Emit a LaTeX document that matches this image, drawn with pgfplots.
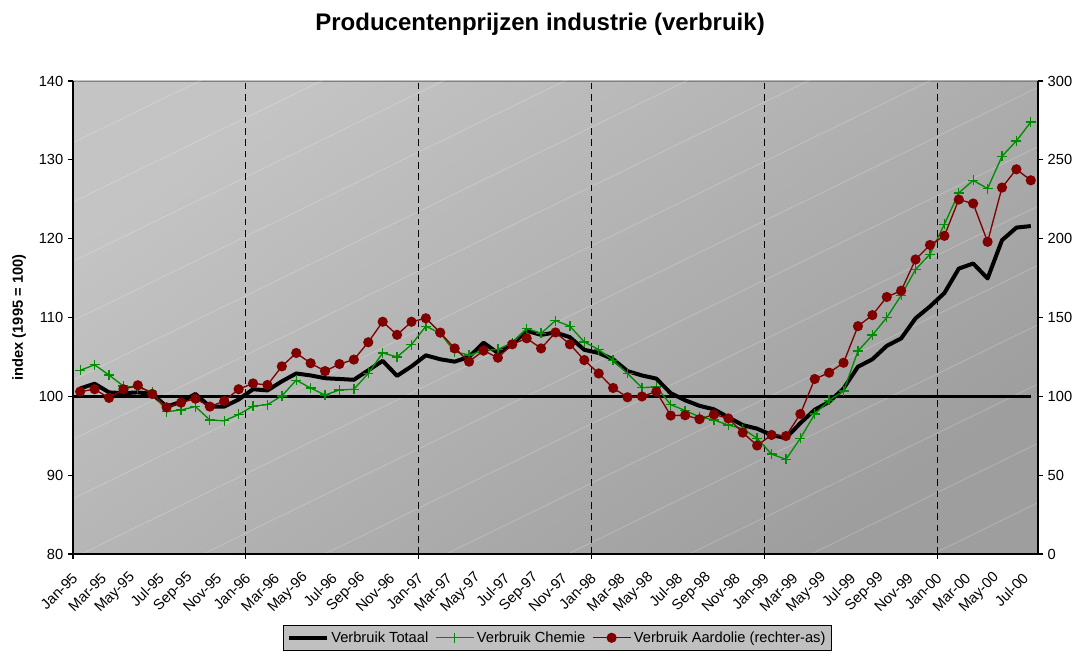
\documentclass[border=0pt]{standalone}
\usepackage{pgfplots}
\pgfplotsset{compat=1.18}
\usepackage{pgfplotstable}
\usepackage{fontspec}
\setmainfont{Liberation Sans}
\usetikzlibrary{patterns.meta}
\definecolor{bgA}{RGB}{196,196,196}
\definecolor{bgB}{RGB}{158,158,158}
\definecolor{chem}{RGB}{0,140,0}
\definecolor{aard}{RGB}{128,0,0}
\definecolor{leg}{RGB}{192,192,192}

\pgfplotstableread{
x tot chem
0 101.0 103.3
1 101.6 104.0
2 100.5 102.7
3 100.4 101.3
4 100.5 101.1
5 100.3 100.6
6 98.7 98.05
7 99.3 98.27
8 100.3 98.7
9 98.7 97.0
10 98.7 96.9
11 99.6 97.7
12 100.9 98.75
13 100.75 98.95
14 101.9 100.05
15 102.9 102.05
16 102.65 101.05
17 102.3 100.17
18 102.2 100.8
19 102.1 100.9
20 103.3 102.9
21 104.5 105.5
22 102.6 105.0
23 103.8 106.55
24 105.2 108.9
25 104.7 108.0
26 104.4 105.66
27 105.0 105.24
28 106.8 105.8
29 105.5 105.96
30 106.6 106.8
31 108.3 108.6
32 107.8 108.0
33 108.1 109.6
34 107.5 108.9
35 105.9 106.9
36 105.5 105.93
37 104.7 104.55
38 103.2 102.9
39 102.65 101.1
40 102.25 101.2
41 100.4 98.95
42 99.5 98.2
43 98.8 97.4
44 98.35 97.0
45 97.35 96.36
46 96.35 95.9
47 95.9 94.67
48 95.1 92.68
49 94.7 92.0
50 96.6 94.67
51 98.3 97.75
52 99.3 99.5
53 101.0 100.67
54 103.75 105.74
55 104.7 107.76
56 106.4 110.0
57 107.35 112.8
58 109.9 116.1
59 111.4 118.03
60 113.1 121.83
61 116.2 125.8
62 116.85 127.4
63 114.95 126.35
64 119.8 130.45
65 121.4 132.4
66 121.6 134.8
}\lefttable

\pgfplotstableread{
x aard
0 103
1 104.5
2 99
3 104.5
4 107
5 101.5
6 93
7 96
8 98.5
9 93.5
10 97
11 104.5
12 108.2
13 107.2
14 119
15 127.5
16 121
17 116
18 120.5
19 123.3
20 134.3
21 147.3
22 139
23 147.3
24 149.5
25 140.4
26 130.4
27 122
28 129
29 124.5
30 133
31 136.8
32 130.4
33 140.5
34 133
35 123
36 114.5
37 105.3
38 99.4
39 99.9
40 103
41 87.8
42 88
43 85.5
44 88.5
45 86
46 77
47 68.8
48 75.5
49 74.8
50 88.8
51 111
52 115
53 121.3
54 144.5
55 151.5
56 163
57 167
58 186.8
59 196
60 201.8
61 224.8
62 222.3
63 198
64 232.4
65 244
66 237
}\righttable

\begin{document}
\begin{tikzpicture}[x=1pt,y=1pt]
\path[use as bounding box] (-54.75,-74.25) rectangle (754.5,415.5);
\begin{axis}[
  at={(0,0)}, anchor=south west,
  scale only axis, width=723.75pt, height=354.75pt,
  xmin=-0.5, xmax=66.5, ymin=80, ymax=140,
  axis x line*=bottom, axis y line*=left,
  axis line style={line width=1pt, -},
  axis background/.style={shade, top color=bgA, bottom color=bgB, shading angle=35,
     draw=gray, line width=0.6pt,
     postaction={pattern={Lines[angle=26,distance=40pt,line width=0.5pt]}, pattern color=white, opacity=0.25}},
  ytick={80,90,...,140},
  tick align=outside, major tick length=3.75pt,
  ytick style={black, line width=0.8pt},
  xtick={0,2,...,66},
  xticklabels={Jan-95,Mar-95,May-95,Jul-95,Sep-95,Nov-95,
               Jan-96,Mar-96,May-96,Jul-96,Sep-96,Nov-96,
               Jan-97,Mar-97,May-97,Jul-97,Sep-97,Nov-97,
               Jan-98,Mar-98,May-98,Jul-98,Sep-98,Nov-98,
               Jan-99,Mar-99,May-99,Jul-99,Sep-99,Nov-99,
               Jan-00,Mar-00,May-00,Jul-00},
  xtick style={draw=none},
  extra x ticks={11.5,23.5,35.5,47.5,59.5},
  extra x tick labels={},
  extra x tick style={grid=major, major grid style={black, line width=0.75pt, dash pattern=on 5pt off 3.5pt}},
  /pgf/number format/assume math mode=true,
  ticklabel style={font=\fontsize{11}{13}\selectfont},
  xticklabel style={xshift=-1.5pt, yshift=-10pt, rotate=45, anchor=east, font=\fontsize{11}{13}\selectfont},
  title={Producentenprijzen industrie (verbruik)},
  title style={at={(axis description cs:0.484,1.103)}, anchor=center, font=\fontsize{18}{22}\selectfont\bfseries},
  ylabel={index (1995 = 100)},
  ylabel style={at={(axis description cs:-0.056,0.5)}, anchor=center, rotate=0, font=\fontsize{11}{13}\selectfont\bfseries},
  legend columns=3,
  legend style={at={(axis description cs:0.502,-0.150)}, anchor=north, fill=leg, draw=black, line width=0.8pt,
     font=\fontsize{11}{13}\selectfont, inner sep=2.5pt,
     /tikz/every even column/.append style={column sep=3pt},
     /tikz/every odd column/.append style={column sep=0pt}},
  legend image code/.code={\draw[mark repeat=2,mark phase=2,#1] plot coordinates {(0cm,0cm) (0.5cm,0cm) (1cm,0cm)};},
  clip=false,
]
\addplot[black, line width=2pt, forget plot] coordinates {(-0.5,100) (66,100)};
\addplot[black, line width=3pt, line join=round] table[x=x, y=tot] {\lefttable};
\addlegendentry{Verbruik Totaal}
\addplot[chem, line width=1pt, mark=+, mark size=3.75pt, mark options={line width=1pt}] table[x=x, y=chem] {\lefttable};
\addlegendentry{Verbruik Chemie}
\addlegendimage{aard, line width=1pt, mark=*, mark size=3.3pt, mark options={fill=aard, draw=aard}}
\addlegendentry{Verbruik Aardolie (rechter-as)}
\end{axis}
\begin{axis}[
  at={(0,0)}, anchor=south west,
  scale only axis, width=723.75pt, height=354.75pt,
  xmin=-0.5, xmax=66.5, ymin=0, ymax=300,
  axis x line*=bottom, axis y line*=right,
  axis line style={line width=1pt, -},
  xtick={-0.5,11.5,23.5,35.5,47.5,59.5}, xticklabels={},
  ytick={0,50,...,300},
  tick align=outside, major tick length=3.75pt,
  tick style={black, line width=0.8pt},
  /pgf/number format/assume math mode=true,
  ticklabel style={font=\fontsize{11}{13}\selectfont},
]
\addplot[aard, line width=1pt, mark=*, mark size=3.3pt, mark options={fill=aard, draw=aard}] table[x=x, y=aard] {\righttable};
\end{axis}
\end{tikzpicture}
\end{document}
